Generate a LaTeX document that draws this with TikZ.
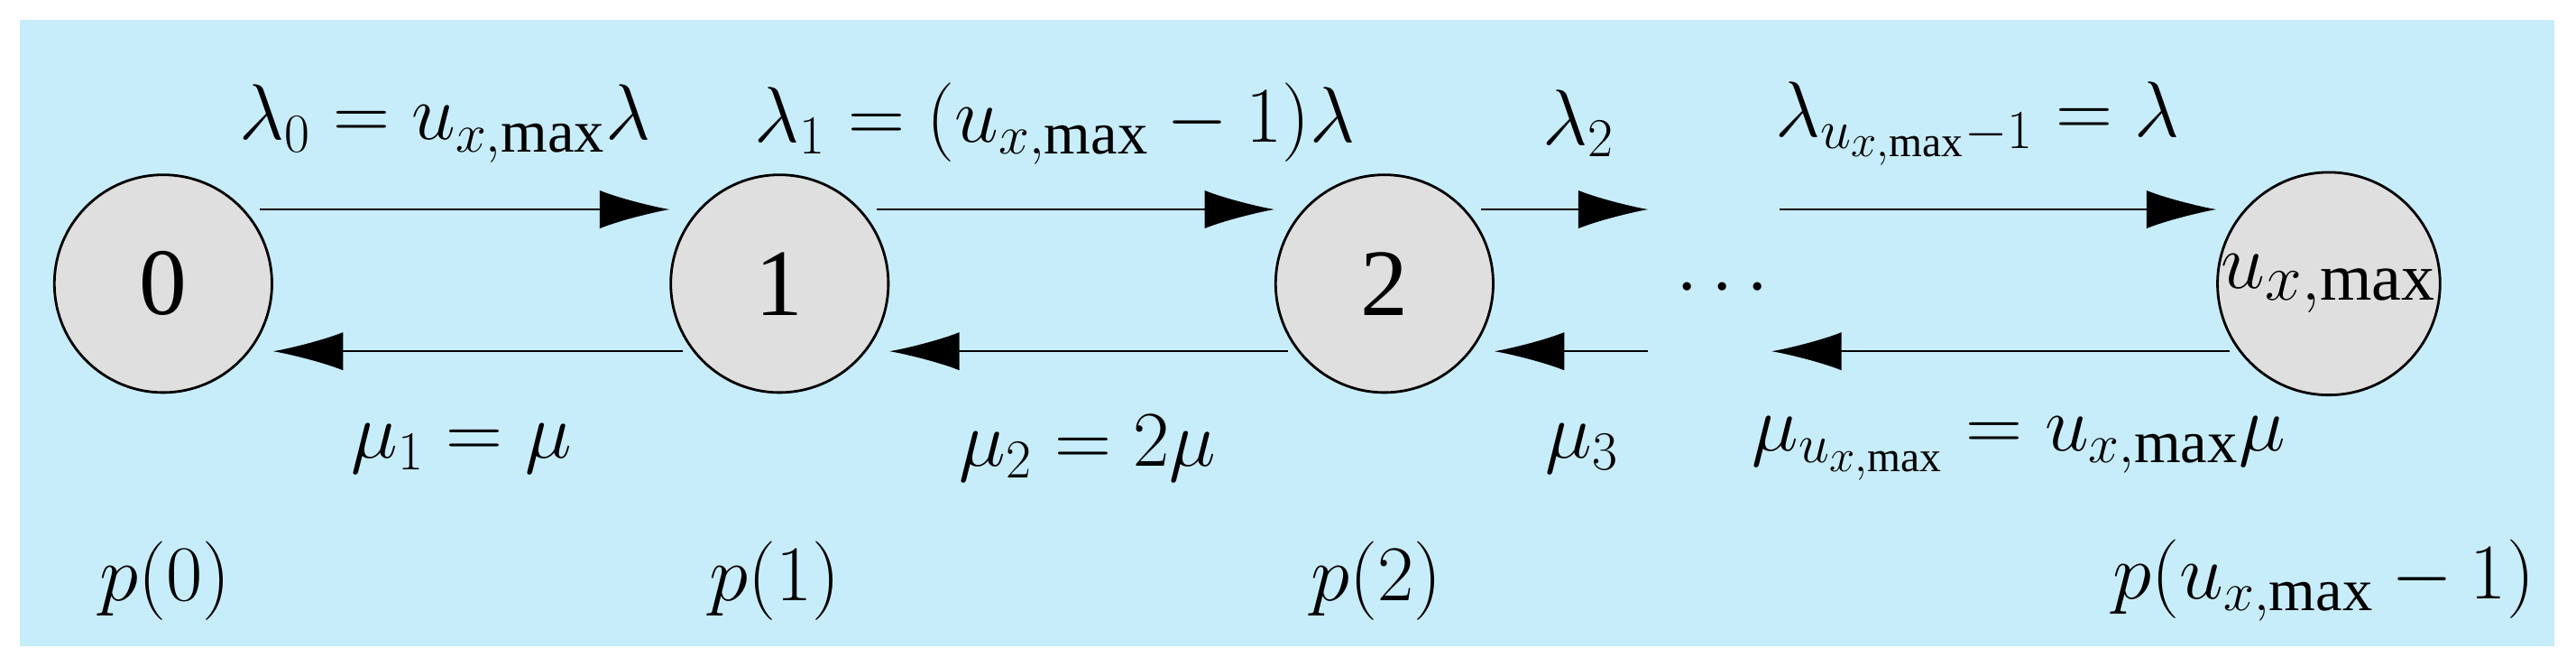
\documentclass[tikz,border=0pt]{standalone}
\usepackage{fontspec}
\setmainfont{Liberation Serif}
\usetikzlibrary{arrows.meta}
\begin{document}
\begin{tikzpicture}[x=0.01827cm,y=-0.01827cm,
  st/.style={circle,draw,line width=0.8pt,fill=gray!25,minimum size=132*0.01827cm,inner sep=0pt,font=\fontsize{30}{34}\selectfont},
  lb/.style={font=\fontsize{27}{32}\selectfont,inner sep=0pt},
  ar/.style={-{Latex[length=22pt,width=12pt]},line width=0.6pt}]
\useasboundingbox (0,0) rectangle (1563,404);
\fill[cyan!22] (12,12) rectangle (1550,392);
\node[st] (s0) at (99,172) {0};
\node[st] (s1) at (473,172) {1};
\node[st] (s2) at (840,172) {2};
\node[st] (su) at (1413,172) {$u_{x,\max}$};
\coordinate (a2e) at (1000,127); \coordinate (a3s) at (1080,127);
\coordinate (b2s) at (1000,213); \coordinate (b3e) at (1075,213);
\draw[ar] (s0.east |- 0,127) ++(-8,0) -- (s1.west |- 0,127);
\draw[ar] (s1.east |- 0,127) ++(-8,0) -- (s2.west |- 0,127);
\draw[ar] (s2.east |- 0,127) ++(-8,0) -- (a2e);
\draw[ar] (a3s) -- (su.west |- 0,127);
\draw[ar] (s1.west |- 0,213) ++(8,0) -- (s0.east |- 0,213);
\draw[ar] (s2.west |- 0,213) ++(8,0) -- (s1.east |- 0,213);
\draw[ar] (b2s) -- (s2.east |- 0,213);
\draw[ar] (su.west |- 0,213) ++(8,0) -- (b3e);
\node[lb] (dots) at (1045,175) {$\cdots$};
\node[lb] (l0) at (270,75) {$\lambda_0=u_{x,\max}\lambda$};
\node[lb] (l1) at (640,75) {$\lambda_1=(u_{x,\max}-1)\lambda$};
\node[lb] (l2) at (958,75) {$\lambda_2$};
\node[lb] (l3) at (1200,75) {$\lambda_{u_{x,\max}-1}=\lambda$};
\node[lb] (m1) at (280,272) {$\mu_1=\mu$};
\node[lb] (m2) at (660,272) {$\mu_2=2\mu$};
\node[lb] (m3) at (960,272) {$\mu_3$};
\node[lb] (m4) at (1225,272) {$\mu_{u_{x,\max}}=u_{x,\max}\mu$};
\node[lb] (p0) at (100,352) {$p(0)$};
\node[lb] (p1) at (470,352) {$p(1)$};
\node[lb] (p2) at (835,352) {$p(2)$};
\node[lb] (p3) at (1410,352) {$p(u_{x,\max}-1)$};
\end{tikzpicture}
\end{document}
